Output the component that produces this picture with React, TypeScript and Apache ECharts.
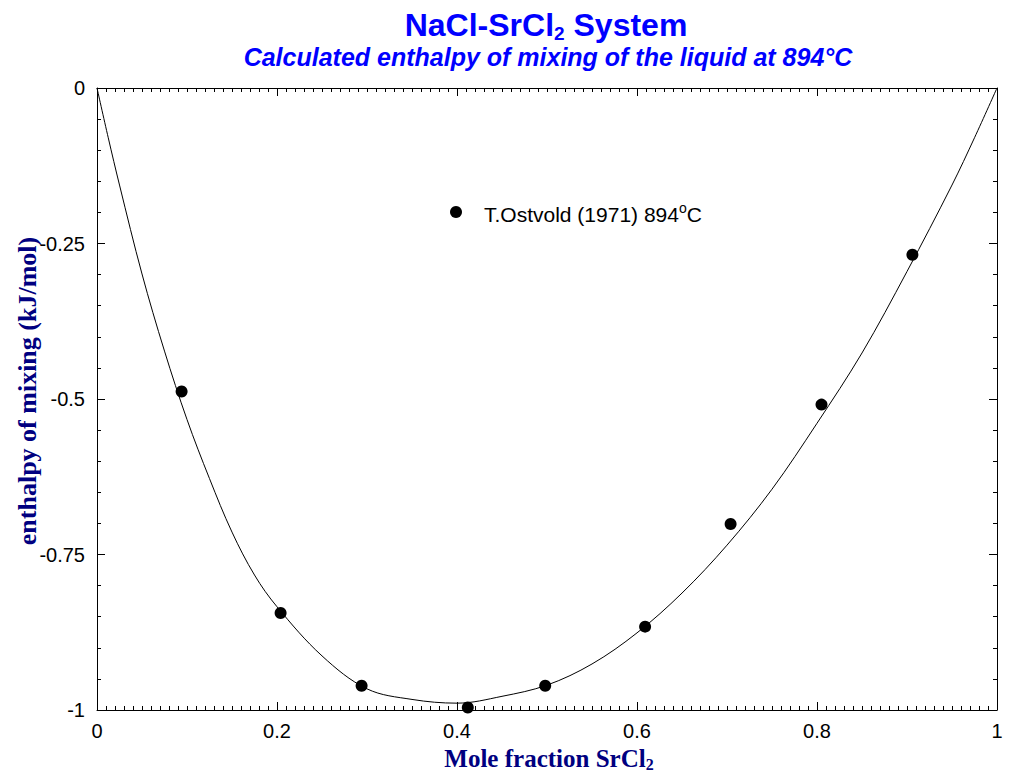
import React, { useEffect, useRef } from "react";
import * as echarts from "echarts";

const curveX = [0, 0.0125, 0.025, 0.05, 0.075, 0.1, 0.125, 0.15, 0.175, 0.2, 0.25, 0.3, 0.35, 0.4, 0.45, 0.5, 0.55, 0.6, 0.65, 0.7, 0.75, 0.8, 0.85, 0.9, 0.95, 0.975, 1];
const curveY = [0, -0.08, -0.156, -0.299, -0.423, -0.533, -0.628, -0.714, -0.783, -0.834, -0.913, -0.966, -0.983, -0.989, -0.978, -0.96, -0.926, -0.876, -0.812, -0.735, -0.645, -0.539, -0.426, -0.295, -0.156, -0.08, 0];

const expX = [0.094, 0.204, 0.294, 0.412, 0.498, 0.609, 0.704, 0.805, 0.906];
const expY = [-0.488, -0.844, -0.961, -0.996, -0.961, -0.866, -0.701, -0.509, -0.268];

const xTicks = { min: 0, max: 1, interval: 0.2 };
const yTicks = { min: -1, max: 0, interval: 0.25 };

const SANS = "'Liberation Sans', Arial, sans-serif";
const SERIF = "'Liberation Serif', 'Times New Roman', serif";

export default function App() {
  const ref = useRef<HTMLDivElement>(null);
  useEffect(() => {
    if (!ref.current) return;
    const chart = echarts.init(ref.current, undefined, { renderer: "svg" });
    const axisCommon = {
      axisLine: { show: true, onZero: false, lineStyle: { color: "#000", width: 1 } },
      splitLine: { show: false },
    };
    const xBase = (pos: string, labels: boolean) => ({
      type: "value",
      position: pos,
      min: xTicks.min,
      max: xTicks.max,
      interval: xTicks.interval,
      ...axisCommon,
      axisTick: { show: true, inside: true, length: 8, lineStyle: { color: "#000" } },
      minorTick: { show: true, splitNumber: 20, length: 4, lineStyle: { color: "#000" } },
      axisLabel: {
        show: labels,
        color: "#000",
        fontSize: 20,
        fontFamily: SANS,
        margin: 11,
      },
    });
    const yBase = (pos: string, labels: boolean) => ({
      type: "value",
      position: pos,
      min: yTicks.min,
      max: yTicks.max,
      interval: yTicks.interval,
      ...axisCommon,
      axisTick: { show: true, inside: true, length: 8, lineStyle: { color: "#000" } },
      minorTick: { show: true, splitNumber: 5, length: 4, lineStyle: { color: "#000" } },
      axisLabel: {
        show: labels,
        color: "#000",
        fontSize: 20,
        fontFamily: SANS,
        margin: 12,
      },
    });
    chart.setOption({
      animation: false,
      backgroundColor: "#fff",
      grid: { left: 97, right: 18, top: 88, bottom: 62 },
      xAxis: [xBase("bottom", true), xBase("top", false)],
      yAxis: [yBase("left", true), yBase("right", false)],
      series: [
        {
          type: "line",
          xAxisIndex: 0,
          yAxisIndex: 0,
          data: curveX.map((x, i) => [x, curveY[i]]),
          smooth: 0.35,
          showSymbol: false,
          symbol: "none",
          lineStyle: { color: "#000", width: 1 },
        },
        {
          type: "scatter",
          xAxisIndex: 0,
          yAxisIndex: 0,
          data: expX.map((x, i) => [x, expY[i]]),
          symbol: "circle",
          symbolSize: 12,
          itemStyle: { color: "#000", opacity: 1 },
        },
      ],
      graphic: [
        {
          type: "text",
          x: 546,
          y: 26,
          style: {
            text: "{a|NaCl-SrCl}{s|2}{a| System}",
            align: "center",
            verticalAlign: "middle",
            rich: {
              a: { fontSize: 32, fontWeight: "bold", fontFamily: SANS, fill: "#0000ff", lineHeight: 34, verticalAlign: "top" },
              s: { fontSize: 19, fontWeight: "bold", fontFamily: SANS, fill: "#0000ff", lineHeight: 20, verticalAlign: "bottom" },
            },
          },
        },
        {
          type: "text",
          x: 548,
          y: 57,
          style: {
            text: "Calculated enthalpy of mixing of the liquid at 894°C",
            align: "center",
            verticalAlign: "middle",
            fontSize: 25,
            fontWeight: "bold",
            fontStyle: "italic",
            fontFamily: SANS,
            fill: "#0000ff",
          },
        },
        {
          type: "circle",
          shape: { cx: 456, cy: 212, r: 6 },
          style: { fill: "#000" },
        },
        {
          type: "text",
          x: 484,
          y: 213,
          style: {
            text: "{t|T.Ostvold (1971) 894}{o|o}{t|C}",
            verticalAlign: "middle",
            rich: {
              t: { fontSize: 21, fontFamily: SANS, fill: "#000", lineHeight: 24, verticalAlign: "bottom" },
              o: { fontSize: 14, fontFamily: SANS, fill: "#000", lineHeight: 16, verticalAlign: "top" },
            },
          },
        },
        {
          type: "text",
          x: 549,
          y: 759,
          style: {
            text: "{a|Mole fraction SrCl}{s|2}",
            align: "center",
            verticalAlign: "middle",
            rich: {
              a: { fontSize: 25, fontWeight: "bold", fontFamily: SERIF, fill: "#000080", lineHeight: 26, verticalAlign: "top" },
              s: { fontSize: 16, fontWeight: "bold", fontFamily: SERIF, fill: "#000080", lineHeight: 18, verticalAlign: "bottom" },
            },
          },
        },
        {
          type: "text",
          x: 27,
          y: 391,
          rotation: Math.PI / 2,
          style: {
            text: "enthalpy of mixing (kJ/mol)",
            align: "center",
            verticalAlign: "middle",
            fontSize: 26,
            fontWeight: "bold",
            fontFamily: SERIF,
            fill: "#000080",
          },
        },
      ],
    });
    return () => chart.dispose();
  }, []);
  return <div ref={ref} style={{ width: 1015, height: 772, position: "absolute", left: 0, top: 0 }} />;
}
